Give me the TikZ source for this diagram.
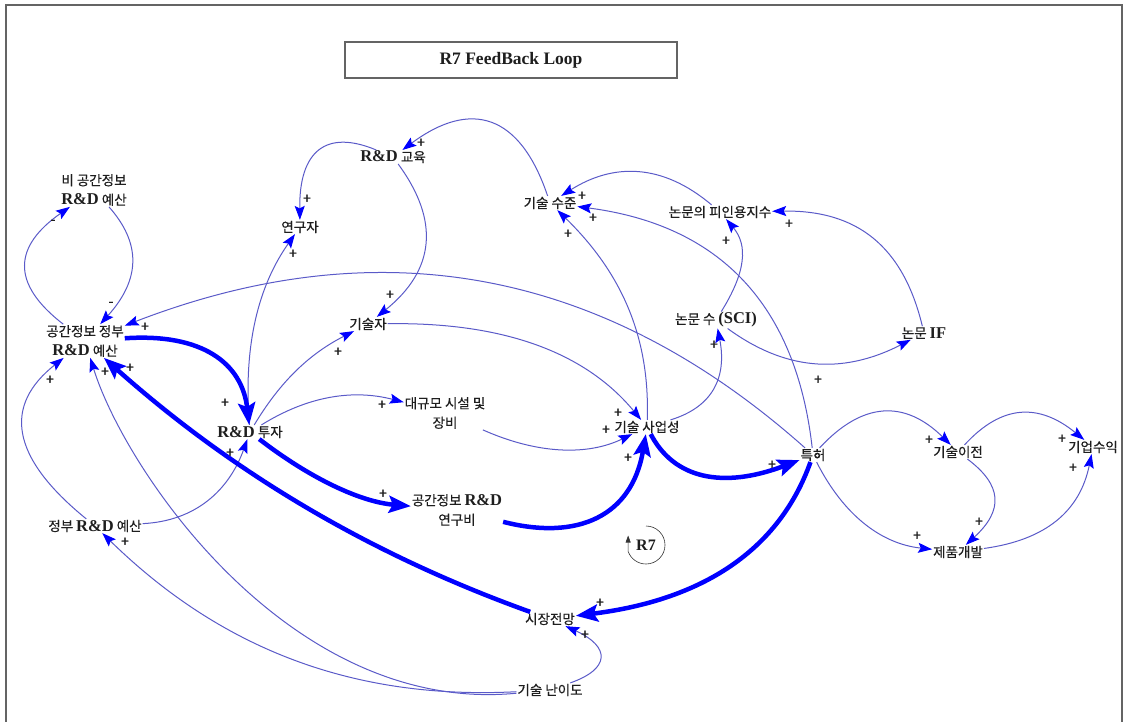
\documentclass[tikz,border=0pt]{standalone}
\usepackage{fontspec}
\setmainfont{Noto Sans CJK KR}[FakeBold=0.5]
\newfontfamily\tms{Liberation Serif}
\usetikzlibrary{arrows.meta}
\newcommand\RD{{\tms\bfseries\fontsize{16.5}{18}\selectfont R\&D}}
\newcommand\SB[1]{{\tms\bfseries\fontsize{16.5}{18}\selectfont #1}}
\definecolor{lnk}{RGB}{90,90,200}
\definecolor{hd}{RGB}{0,0,255}
\definecolor{frm}{RGB}{100,100,100}
\definecolor{txt}{RGB}{30,30,30}
\begin{document}
\begin{tikzpicture}[x=1pt,y=-1pt,
  var/.style={inner sep=1pt, outer sep=0pt, align=center, text=txt,
    font=\fontsize{13.5}{19.5}\selectfont},
  lk/.style={draw=lnk, line width=1pt,
    -{Stealth[length=14pt,width=10pt,inset=2.5pt,color=hd]}},
  thk/.style={draw=hd, line width=4.5pt,
    -{Stealth[length=22pt,width=17pt,inset=4pt]}},
  pol/.style={inner sep=0pt, text=txt, font=\fontsize{14}{14}\selectfont}]
\useasboundingbox (0,0) rectangle (1124,722);
% outer frame
\draw[frm, line width=1.5pt] (6,722) -- (6,5) -- (1122,5) -- (1122,722);
% title box
\node[draw=frm, line width=1.2pt, minimum width=332pt, minimum height=36pt, inner sep=0pt,
  font=\tms\bfseries\fontsize{17.5}{20}\selectfont, text=txt] (title) at (511,60) {R7 FeedBack Loop};

% variables
\node[var] (nonsp) at (94,190) {비 공간정보\\\RD{} 예산};
\node[var] (gsp)   at (85,341) {공간정보 정부\\\RD{} 예산};
\node[var] (res)   at (300,227) {연구자};
\node[var] (edu)   at (393,157) {\RD{} 교육};
\node[var] (tlev)  at (550,203) {기술 수준};
\node[var] (cite)  at (720,212) {논문의 피인용지수};
\node[var] (eng)   at (368,324) {기술자};
\node[var] (sci)   at (716,320) {논문 수 \SB{(SCI)}};
\node[var] (pif)   at (924,333) {논문 \SB{IF}};
\node[var] (fac)   at (445,413) {대규모 시설 및\\장비};
\node[var] (inv)   at (250,432) {\RD{} 투자};
\node[var] (biz)   at (647,427) {기술 사업성};
\node[var] (pat)   at (813,455) {특허};
\node[var] (tt)    at (958,452) {기술이전};
\node[var] (prof)  at (1093,447) {기업수익};
\node[var] (prod)  at (958,552) {제품개발};
\node[var] (rdf)   at (457,510) {공간정보 \RD\\연구비};
\node[var] (gov)   at (95,526) {정부 \RD{} 예산};
\node[var] (mkt)   at (550,619) {시장전망};
\node[var] (diff)  at (550,690) {기술 난이도};

% loop marker
\node[inner sep=0pt, text=txt, font=\tms\bfseries\fontsize{16}{18}\selectfont] (loopr) at (646,545) {R7};
\draw[black!80, line width=0.6pt, -{Triangle[length=7pt,width=5pt]}]
  (646,526) arc[start angle=-90, end angle=160, radius=19] -- ++(0,-16);

% thin causal links
\draw[lk] (gsp) .. controls (10,283) and (14,246) .. (nonsp);
\draw[lk] (nonsp) .. controls (141,243) and (141,279) .. (gsp);
\draw[lk] (pat) .. controls (604,269) and (380,227) .. (gsp);
\draw[lk] (gov) .. controls (196,521) and (229,490) .. (inv);
\draw[lk] (gov) .. controls (9,456) and (4,405) .. (gsp);
\draw[lk] (diff) .. controls (290,715) and (125,470) .. (gsp);
\draw[lk] (diff) .. controls (355,700) and (222,650) .. (gov);
\draw[lk] (diff) .. controls (610,669) and (611,647) .. (mkt);
\draw[lk] (edu) .. controls (326,129) and (299,151) .. (res);
\draw[lk] (tlev) .. controls (520,114) and (471,99) .. (edu);
\draw[lk] (edu) .. controls (440,221) and (435,270) .. (eng);
\draw[lk] (inv) .. controls (243,344) and (259,285) .. (res);
\draw[lk] (inv) .. controls (280,382) and (309,354) .. (eng);
\draw[lk] (eng) .. controls (503,322) and (585,352) .. (biz);
\draw[lk] (inv) .. controls (308,396) and (353,389) .. (fac);
\draw[lk] (fac) .. controls (537,454) and (587,456) .. (biz);
\draw[lk] (biz) .. controls (650,339) and (623,274) .. (tlev);
\draw[lk] (biz) .. controls (713,407) and (727,377) .. (sci);
\draw[lk] (pat) .. controls (796,305) and (720,225) .. (tlev);
\draw[lk] (cite) .. controls (662,163) and (613,163) .. (tlev);
\draw[lk] (sci) .. controls (746,272) and (748,245) .. (cite);
\draw[lk] (pif) .. controls (903,246) and (857,210) .. (cite);
\draw[lk] (sci) .. controls (783,369) and (840,376) .. (pif);
\draw[lk] (pat) .. controls (863,401) and (905,400) .. (tt);
\draw[lk] (pat) .. controls (844,516) and (882,544) .. (prod);
\draw[lk] (tt) .. controls (1002,485) and (1004,510) .. (prod);
\draw[lk] (tt) .. controls (1002,404) and (1039,403) .. (prof);
\draw[lk] (prod) .. controls (1046,540) and (1080,511) .. (prof);

% main reinforcing loop
\draw[thk] (gsp) .. controls (202,333) and (242,363) .. (inv);
\draw[thk] (inv) .. controls (311,479) and (361,502) .. (rdf);
\draw[thk] (rdf) .. controls (578,541) and (632,516) .. (biz);
\draw[thk] (biz) .. controls (674,479) and (723,489) .. (pat);
\draw[thk] (pat) .. controls (779,550) and (703,600) .. (mkt);
\draw[thk] (mkt) .. controls (369,554) and (232,472) .. (gsp);

% link polarities
\node[pol] (m1) at (53,222) {-};
\node[pol] (m2) at (111,304) {-};
\node[pol] (s1) at (145,327) {+};
\node[pol] (s2) at (225,403) {+};
\node[pol] (s3) at (230,453) {+};
\node[pol] (s4) at (50,380) {+};
\node[pol] (s5) at (105,372) {+};
\node[pol] (s6) at (130,368) {+};
\node[pol] (s7) at (125,542) {+};
\node[pol] (s8) at (600,603) {+};
\node[pol] (s9) at (585,635) {+};
\node[pol] (s10) at (307,199) {+};
\node[pol] (s11) at (421,143) {+};
\node[pol] (s12) at (390,295) {+};
\node[pol] (s13) at (293,254) {+};
\node[pol] (s14) at (338,352) {+};
\node[pol] (s15) at (618,413) {+};
\node[pol] (s16) at (382,405) {+};
\node[pol] (s17) at (606,430) {+};
\node[pol] (s18) at (383,494) {+};
\node[pol] (s19) at (628,458) {+};
\node[pol] (s20) at (568,234) {+};
\node[pol] (s21) at (714,345) {+};
\node[pol] (s22) at (593,218) {+};
\node[pol] (s23) at (582,196) {+};
\node[pol] (s24) at (726,241) {+};
\node[pol] (s25) at (789,224) {+};
\node[pol] (s26) at (818,380) {+};
\node[pol] (s27) at (929,440) {+};
\node[pol] (s28) at (917,536) {+};
\node[pol] (s29) at (979,522) {+};
\node[pol] (s30) at (1062,439) {+};
\node[pol] (s31) at (1073,468) {+};
\node[pol] (s32) at (772,465) {+};
\end{tikzpicture}
\end{document}
